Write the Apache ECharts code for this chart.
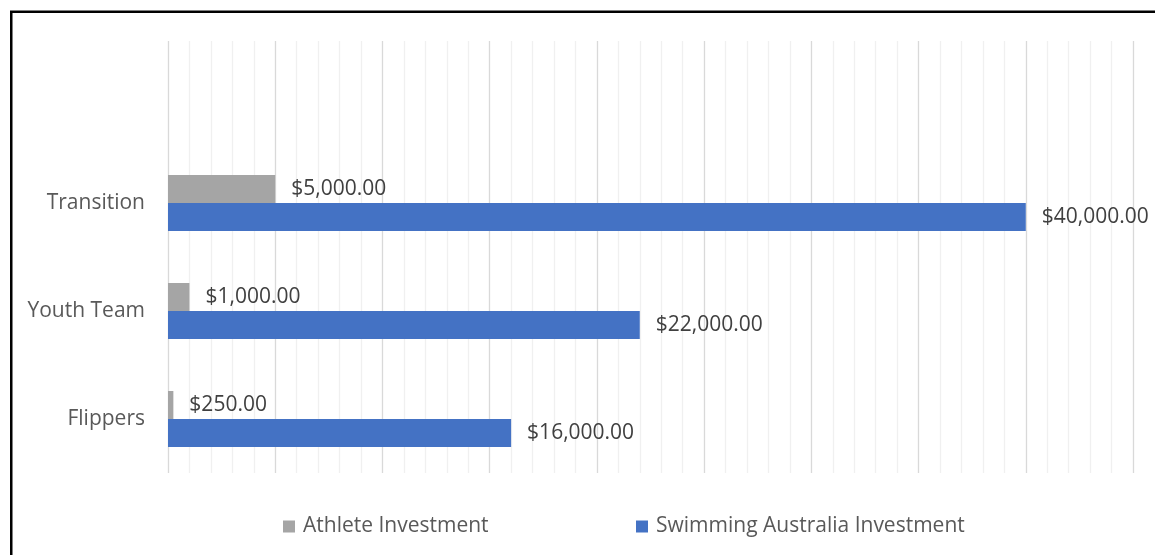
<!DOCTYPE html>
<html>
<head>
<meta charset="utf-8">
<script src="https://cdn.jsdelivr.net/npm/echarts@6/dist/echarts.min.js"></script>
<style>
html,body{margin:0;padding:0;background:#fff;}
#chart{width:1155px;height:555px;}
</style>
</head>
<body>
<div id="chart"></div>
<script>
const categories = ['Flippers', 'Youth Team', 'Transition', ''];
const athleteInvestment = [250, 1000, 5000, null];
const swimmingAustraliaInvestment = [16000, 22000, 40000, null];
const seriesNames = ['Athlete Investment', 'Swimming Australia Investment'];

const FONT = '"Open Sans", "Noto Sans", sans-serif';
const fmt = v => '$' + Number(v).toLocaleString('en-US', {minimumFractionDigits: 2, maximumFractionDigits: 2});

const chart = echarts.init(document.getElementById('chart'));
const labelOpt = {
  show: true,
  position: 'right',
  distance: 16,
  color: '#404040',
  fontFamily: FONT,
  fontSize: 21,
  formatter: p => fmt(p.value)
};
chart.setOption({
  animation: false,
  backgroundColor: '#fff',
  graphic: [{
    type: 'rect',
    shape: {x: 11.25, y: 11.75, width: 1300, height: 700},
    style: {fill: 'none', stroke: '#000', lineWidth: 2.5},
    silent: true
  }],
  legend: [
    {
      data: [seriesNames[0]],
      left: 278, top: 511,
      itemWidth: 12, itemHeight: 12, icon: 'rect',
      textStyle: {color: '#595959', fontFamily: FONT, fontSize: 21, padding: [0, 0, 0, 3]},
      selectedMode: false
    },
    {
      data: [seriesNames[1]],
      left: 631, top: 511,
      itemWidth: 12, itemHeight: 12, icon: 'rect',
      textStyle: {color: '#595959', fontFamily: FONT, fontSize: 21, padding: [0, 0, 0, 3]},
      selectedMode: false
    }
  ],
  grid: {left: 168, right: 22, top: 41, bottom: 82, containLabel: false},
  xAxis: {
    type: 'value',
    min: 0, max: 45000, interval: 5000,
    axisLabel: {show: false},
    axisLine: {show: false},
    axisTick: {show: false},
    splitLine: {show: true, lineStyle: {color: '#D9D9D9', width: 1.3}},
    minorTick: {show: false, splitNumber: 5},
    minorSplitLine: {show: true, lineStyle: {color: '#F0F0F0', width: 1.3}}
  },
  yAxis: {
    type: 'category',
    data: categories,
    axisLine: {show: false},
    axisTick: {show: false},
    axisLabel: {color: '#595959', fontFamily: FONT, fontSize: 21, margin: 23}
  },
  series: [
    {
      name: seriesNames[0],
      type: 'bar',
      data: athleteInvestment,
      barWidth: 28,
      barGap: '0%',
      itemStyle: {color: '#A5A5A5'},
      label: labelOpt
    },
    {
      name: seriesNames[1],
      type: 'bar',
      data: swimmingAustraliaInvestment,
      barWidth: 28,
      barGap: '0%',
      itemStyle: {color: '#4472C4'},
      label: labelOpt
    }
  ]
});
</script>
</body>
</html>
